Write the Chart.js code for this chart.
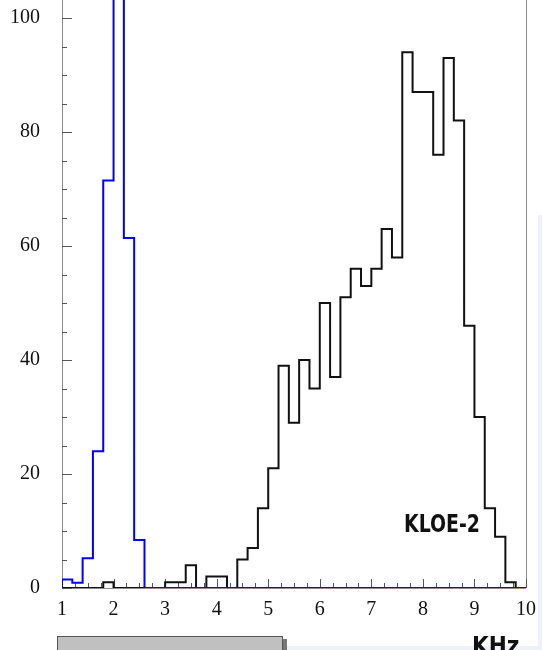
<!DOCTYPE html>
<html>
<head>
<meta charset="utf-8">
<script src="https://cdn.jsdelivr.net/npm/chart.js@4.4.1/dist/chart.umd.min.js"></script>
<style>
  body{margin:0;background:#fff;overflow:hidden;width:542px;height:650px;position:relative}
  #wrap{position:absolute;left:0;top:0;width:542px;height:650px}
  .deco{position:absolute}
</style>
</head>
<body>
<div id="wrap"><canvas id="hist" width="542" height="650"></canvas></div>
<div class="deco" style="left:538px;top:215px;width:4px;height:435px;background:#eef0fb"></div>
<div class="deco" style="left:285px;top:646px;width:257px;height:4px;background:#eef0fb"></div>
<div class="deco" style="left:282px;top:639px;width:5px;height:11px;background:#777"></div>
<div class="deco" style="left:57px;top:636px;width:224px;height:20px;background:#c0c0c0;border:1px solid #555"></div>
<div class="deco" style="left:472px;top:632px;font:bold 24px 'Liberation Sans Narrow','DejaVu Sans Condensed',sans-serif;color:#111">KHz</div>
<script>
// histogram bins: 0.2 kHz wide, from 1 to 10
const binStart = 1.0;
const binWidth = 0.2;
const xTicks = [1,2,3,4,5,6,7,8,9,10];
const yTicks = [0,20,40,60,80,100];

// blue histogram (counts per bin, bin 2.0-2.2 is off scale)
const blueCounts = [1.5,0.9,5.2,24,71.5,140,61.4,8.4,0,0,
  0,0,0,0,0,0,0,0,0,0,
  0,0,0,0,0,0,0,0,0,0,
  0,0,0,0,0,0,0,0,0,0,
  0,0,0,0,0];

// black histogram (KLOE-2)
const blackCounts = [0,0,0,0,1,0,0,0,0,0,
  1,1,4,0,2,2,0,5,7,14,
  21,39,29,40,35,50,37,51,56,53,
  56,63,58,94,87,87,76,93,82,46,
  30,14,9,1,0];

function steps(counts){
  const pts=[{x:binStart,y:0}];
  for(let i=0;i<counts.length;i++){
    pts.push({x:+(binStart+i*binWidth).toFixed(2),y:counts[i]});
  }
  pts.push({x:+(binStart+counts.length*binWidth).toFixed(2),y:0});
  return pts;
}

// axes + inside tick marks, ROOT style
const frame={
  id:'frame',
  beforeDatasetsDraw(chart){
    const ctx=chart.ctx, a=chart.chartArea;
    const xs=chart.scales.x, ys=chart.scales.y;
    ctx.save();
    ctx.strokeStyle='#8c8c8c';
    ctx.lineWidth=1;
    ctx.beginPath();
    ctx.moveTo(a.left+0.5,a.top);ctx.lineTo(a.left+0.5,a.bottom);
    ctx.moveTo(a.right+0.5,a.top);ctx.lineTo(a.right+0.5,a.bottom);
    ctx.moveTo(a.left,a.bottom+0.5);ctx.lineTo(a.right,a.bottom+0.5);
    ctx.stroke();
    ctx.strokeStyle='#555';
    ctx.beginPath();
    for(let v=0;v<=100;v+=5){
      const y=Math.round(ys.getPixelForValue(v))+0.5;
      const len=(v%20===0)?10:5;
      ctx.moveTo(a.left,y);ctx.lineTo(a.left+len,y);
    }
    for(let k=0;k<=36;k++){
      const v=1+k*0.25;
      const x=Math.round(xs.getPixelForValue(v))+0.5;
      const len=(k%4===0)?9:5;
      ctx.moveTo(x,a.bottom);ctx.lineTo(x,a.bottom-len);
    }
    ctx.stroke();
    ctx.restore();
  },
  afterDatasetsDraw(chart){
    const ctx=chart.ctx;
    const xs=chart.scales.x, ys=chart.scales.y;
    ctx.save();
    ctx.font="bold 24px 'Liberation Sans Narrow','DejaVu Sans Condensed',sans-serif";
    ctx.fillStyle='#111';
    ctx.textAlign='center';
    ctx.textBaseline='middle';
    const w=ctx.measureText('KLOE-2').width;
    ctx.translate(xs.getPixelForValue(8.37),ys.getPixelForValue(11));
    ctx.scale(76/w,1);
    ctx.fillText('KLOE-2',0,0);
    ctx.restore();
  }
};

new Chart(document.getElementById('hist'),{
  type:'line',
  data:{
    datasets:[
      {label:'blue',data:steps(blueCounts),stepped:'before',borderColor:'#0000ff',borderWidth:2,pointRadius:0,fill:false,order:0},
      {label:'KLOE-2',data:steps(blackCounts),stepped:'before',borderColor:'#111111',borderWidth:2,pointRadius:0,fill:false,order:1}
    ]
  },
  options:{
    responsive:false,
    animation:false,
    layout:{autoPadding:false,padding:{top:0,right:16,left:0,bottom:0}},
    plugins:{legend:{display:false},tooltip:{enabled:false}},
    scales:{
      x:{
        type:'linear',min:1,max:10,
        grid:{display:false,drawTicks:false},border:{display:false},
        afterBuildTicks:s=>{s.ticks=xTicks.map(v=>({value:v}));},
        afterFit:s=>{s.height=62;s.paddingLeft=0;s.paddingRight=0;s.paddingTop=0;s.paddingBottom=0;},
        ticks:{font:{family:"'Liberation Serif'",size:20},color:'#111',padding:10,maxRotation:0}
      },
      y:{
        min:0,max:103.16,
        grid:{display:false,drawTicks:false},border:{display:false},
        afterBuildTicks:s=>{s.ticks=yTicks.map(v=>({value:v}));},
        afterFit:s=>{s.width=62;s.paddingLeft=0;s.paddingRight=0;s.paddingTop=0;s.paddingBottom=0;},
        ticks:{font:{family:"'Liberation Serif'",size:20},color:'#111',padding:22}
      }
    }
  },
  plugins:[frame]
});
</script>
</body>
</html>
